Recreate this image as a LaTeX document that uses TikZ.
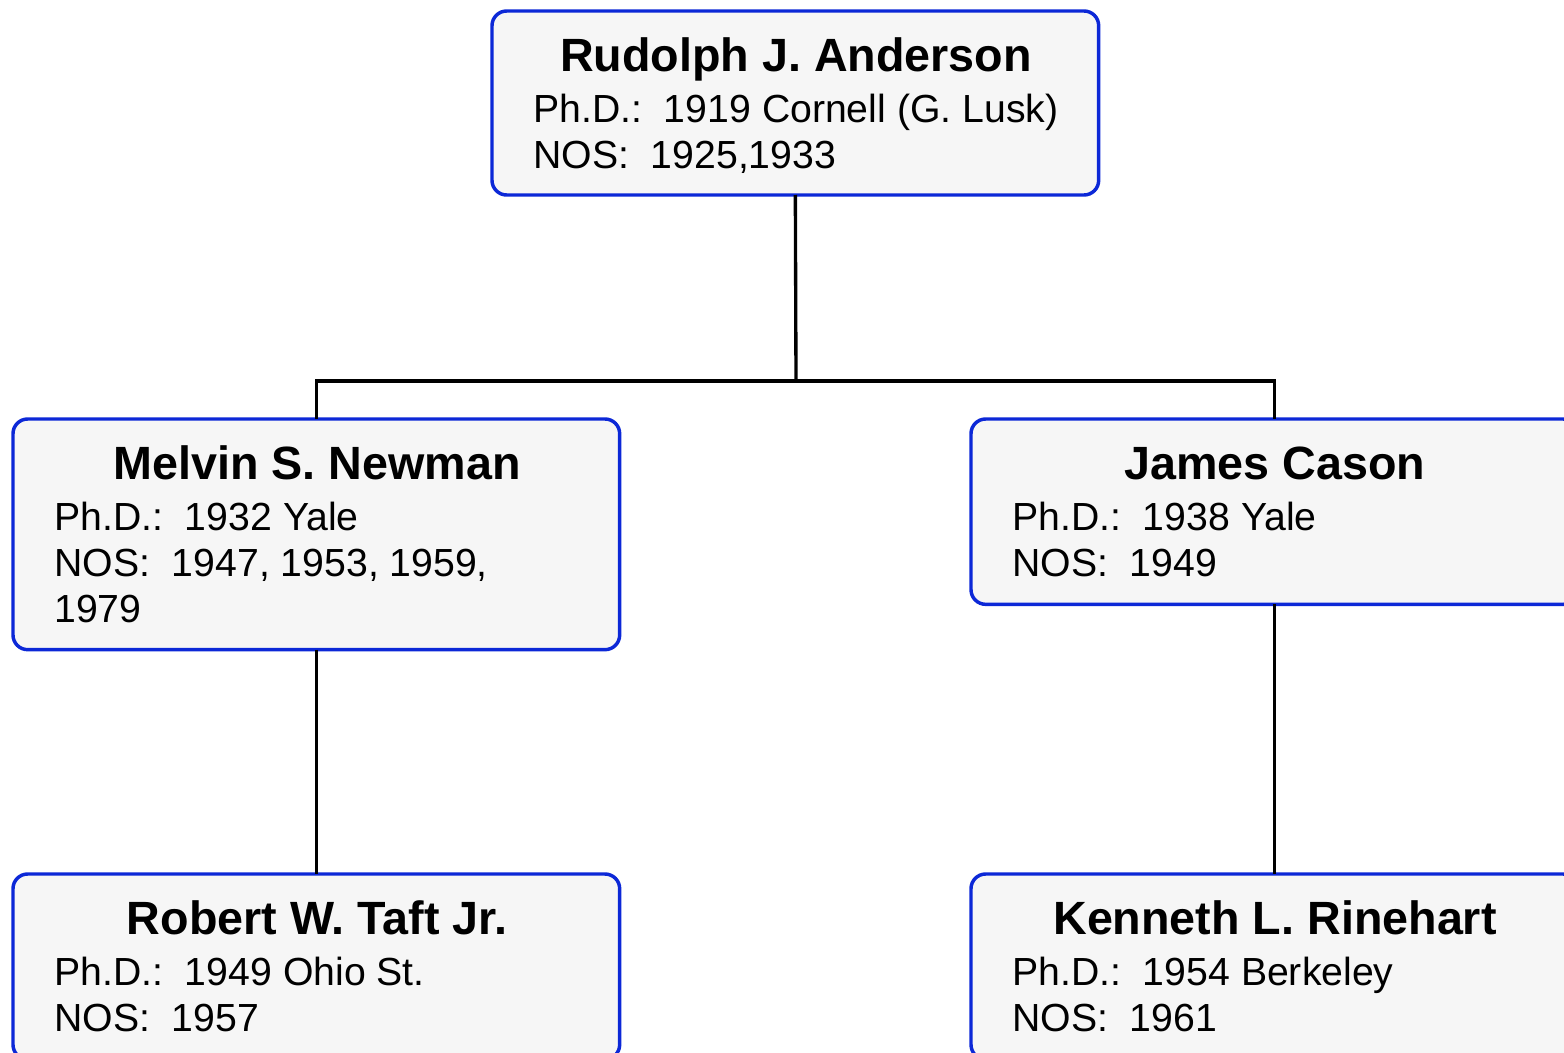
\documentclass[tikz,border=0pt]{standalone}
\usepackage{fontspec}
\setmainfont{Liberation Sans}
\definecolor{boxblue}{RGB}{12,40,215}
\definecolor{boxfill}{RGB}{246,246,246}
\begin{document}
\begin{tikzpicture}[x=0.75pt,y=-0.75pt,
  box/.style={draw=boxblue, fill=boxfill, line width=2.6pt, rounded corners=11pt, anchor=north west, minimum width=455pt, inner sep=0pt, outer sep=0pt},
  link/.style={draw=black, line width=2.5pt},
  pname/.style={font=\fontsize{35}{42}\selectfont\bfseries, anchor=base, inner sep=0pt},
  info/.style={font=\fontsize{29.4}{34}\selectfont, anchor=base west, inner sep=0pt}]
\useasboundingbox (0,0) rectangle (1564,1053);
\clip (0,0) rectangle (1564,1053);
% connectors
\coordinate (j) at (796,381);
% boxes
\node[box, minimum height=138pt] (top) at (492,11) {};
\node[box, minimum height=173pt] (ml) at (13,419) {};
\node[box, minimum height=139pt] (mr) at (971,419) {};
\node[box, minimum height=139pt] (bl) at (13,874) {};
\node[box, minimum height=139pt] (br) at (971,874) {};
\draw[link] (top.south) -- (j);
\draw[link] (ml.north) |- (j) -| (mr.north);
\draw[link] (ml.south) -- (bl.north);
\draw[link] (mr.south) -- (br.north);
% texts
\node[pname] (t0) at (796,71) {Rudolph J. Anderson};
\node[info] (t1) at (533,122) {Ph.D.:\ \ 1919 Cornell (G. Lusk)};
\node[info] (t2) at (533,168) {NOS:\ \ 1925,1933};
\node[pname] (l0) at (317,479) {Melvin S. Newman};
\node[info] (l1) at (54,530) {Ph.D.:\ \ 1932 Yale};
\node[info] (l2) at (54,576) {NOS:\ \ 1947, 1953, 1959,};
\node[info] (l3) at (54,622) {1979};
\node[pname] (r0) at (1275,479) {James Cason};
\node[info] (r1) at (1012,530) {Ph.D.:\ \ 1938 Yale};
\node[info] (r2) at (1012,576) {NOS:\ \ 1949};
\node[pname] (b0) at (317,934) {Robert W. Taft Jr.};
\node[info] (b1) at (54,985) {Ph.D.:\ \ 1949 Ohio St.};
\node[info] (b2) at (54,1031) {NOS:\ \ 1957};
\node[pname] (c0) at (1275,934) {Kenneth L. Rinehart};
\node[info] (c1) at (1012,985) {Ph.D.:\ \ 1954 Berkeley};
\node[info] (c2) at (1012,1031) {NOS:\ \ 1961};
\end{tikzpicture}
\end{document}
